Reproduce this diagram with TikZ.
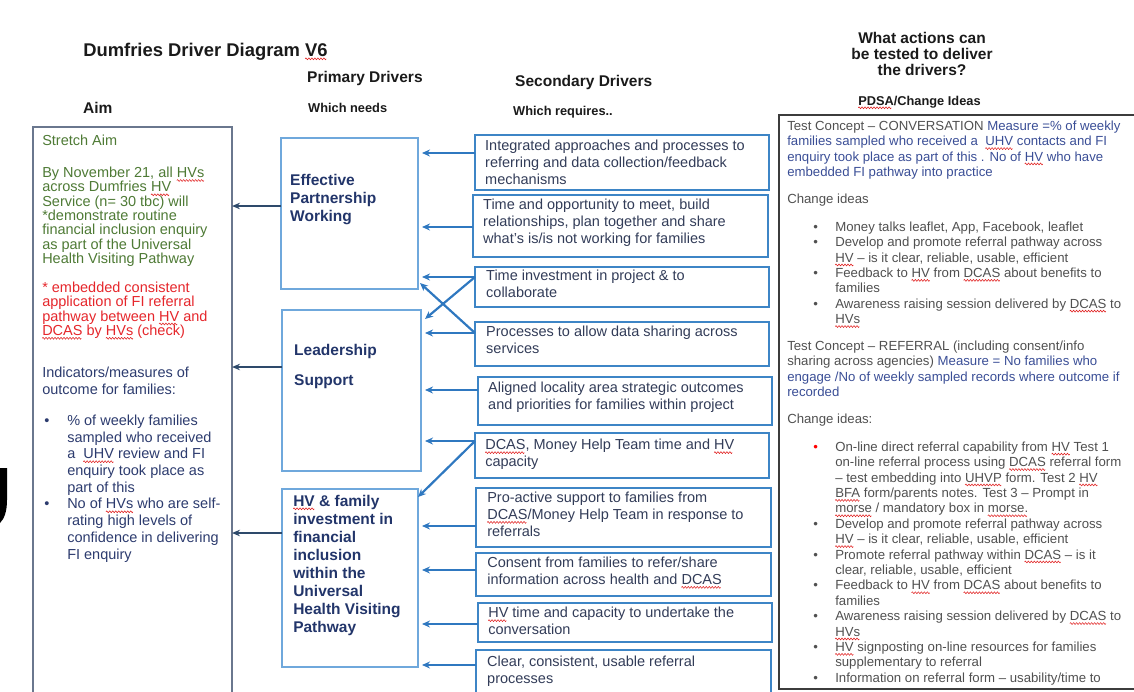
\documentclass[tikz,border=0pt]{standalone}
\usepackage{fontspec}
\setmainfont{Liberation Sans}
\usetikzlibrary{arrows.meta}

\definecolor{headblack}{HTML}{1A1A1A}
\definecolor{aimframe}{HTML}{6A778E}
\definecolor{aimarrow}{HTML}{2E4A6B}
\definecolor{aimgreen}{HTML}{4E7A35}
\definecolor{aimred}{HTML}{E5262B}
\definecolor{aimnavy}{HTML}{2C3B6E}
\definecolor{pframe}{HTML}{6FA8DC}
\definecolor{sframe}{HTML}{3D85C6}
\definecolor{sarrowc}{HTML}{2F78C0}
\definecolor{ptextc}{HTML}{22356A}
\definecolor{stextc}{HTML}{323C58}
\definecolor{rframe}{HTML}{3C3C3C}
\definecolor{rgray}{HTML}{505050}
\definecolor{rblue}{HTML}{3A4E96}
\definecolor{spellred}{HTML}{E02020}

% red wavy spell-check underline, built from a small pgf zigzag repeated with \leaders
\newcommand\wavemark{\begin{pgfpicture}%
  \pgfsetlinewidth{0.55pt}\pgfsetstrokecolor{spellred}\pgfsetroundjoin
  \pgfpathmoveto{\pgfpoint{0pt}{-2.8pt}}%
  \pgfpathlineto{\pgfpoint{0.75pt}{-1.8pt}}%
  \pgfpathlineto{\pgfpoint{2.25pt}{-3.8pt}}%
  \pgfpathlineto{\pgfpoint{3pt}{-2.8pt}}%
  \pgfusepath{stroke}%
  \pgfresetboundingbox
  \pgfpathrectangle{\pgfpointorigin}{\pgfpoint{3pt}{0pt}}%
  \pgfusepath{use as bounding box}%
\end{pgfpicture}}
\newsavebox\sqbox
\newsavebox\wavebox
\newcommand\sq[1]{\sbox\wavebox{\wavemark}\sbox\sqbox{#1}\rlap{\usebox\sqbox}\hbox to\wd\sqbox{\leaders\copy\wavebox\hfill}}

% bullets in the aim box
\newcommand\ab{\hspace*{2pt}\makebox[23pt][l]{\textbullet}}
\newcommand\ai{\hspace*{25pt}}
% bullets in the change-ideas column
\newcommand\rb{\hspace*{26pt}\makebox[22pt][l]{\textbullet}}
\newcommand\rd{\hspace*{26pt}\makebox[22pt][l]{\textcolor{red}{\textbullet}}}
\newcommand\ri{\hspace*{48pt}}
\newcommand\mb[1]{\textcolor{rblue}{#1}}
\newcommand\rl[1]{\textcolor{aimred}{#1}}

\begin{document}
\begin{tikzpicture}[x=1pt,y=-1pt,
  heading/.style={font=\bfseries\fontsize{15.5}{16}\selectfont, text=headblack, inner sep=0, anchor=base west},
  subhead/.style={font=\bfseries\fontsize{12.8}{14}\selectfont, text=headblack, inner sep=0, anchor=base west},
  aimbox/.style={draw=aimframe, line width=1.7pt, anchor=north west, inner sep=0, outer sep=0},
  pbox/.style={draw=pframe, line width=1.3pt, anchor=north west, inner sep=0, outer sep=0},
  sbox/.style={draw=sframe, line width=1.8pt, anchor=north west, inner sep=0, outer sep=0},
  ptext/.style={font=\bfseries\fontsize{15.5}{18}\selectfont, text=ptextc, align=left, anchor=north west, inner sep=0},
  stext/.style={font=\fontsize{14.5}{16.8}\selectfont, text=stextc, align=left, anchor=north west, inner sep=0},
  aimarr/.style={draw=aimarrow, line width=2pt, -{Stealth[length=8pt,width=6.5pt]}},
  sarr/.style={draw=sarrowc, line width=2.2pt, shorten >=4pt, -{Stealth[length=8pt,width=7pt]}}
]
\useasboundingbox (0,0) rectangle (1134,691);
\clip (0,0) rectangle (1134,691);

% fragment of a large glyph at the left edge
\fill[black] (0,468) -- (7,468) -- (7,500) .. controls (7,512) and (4,519) .. (0,523) -- cycle;

% headings
\node[heading, font=\bfseries\fontsize{18.4}{20}\selectfont] (title) at (83,56) {Dumfries Driver Diagram \sq{V6}};
\node[heading] (aimhd) at (83,113) {Aim};
\node[heading] (primhd) at (307,82) {Primary Drivers};
\node[subhead] (primsub) at (308,112) {Which needs};
\node[heading] (sechd) at (515,86) {Secondary Drivers};
\node[subhead] (secsub) at (513,115) {Which requires..};
\node[heading, anchor=north, align=center] (acthd) at (922,32) {What actions can\\be tested to deliver\\the drivers?};
\node[subhead] (pdsahd) at (858,105) {\sq{PDSA}/Change Ideas};

% aim box
\node[aimbox, minimum width=199, minimum height=600] (aim) at (33,127) {};
\node[stext, text=aimgreen, font=\fontsize{14.5}{14.3}\selectfont] (aimtext) at (42,135) {%
Stretch Aim\\[17.6pt]
By November 21, all \sq{HVs}\\
across Dumfries \sq{HV}\\
Service (n= 30 tbc) will\\
*demonstrate routine\\
financial inclusion enquiry\\
as part of the Universal\\
Health Visiting Pathway\\[14.8pt]
\rl{* embedded consistent}\\
\rl{application of FI referral}\\
\rl{pathway between \sq{HV} and}\\
\rl{\sq{DCAS} by \sq{HVs} (check)}};
\node[stext, text=aimnavy, font=\fontsize{14.5}{16.7}\selectfont] (aimind) at (42,367) {%
Indicators/measures of\\
outcome for families:\\[14.3pt]
\ab\% of weekly families\\
\ai sampled who received\\
\ai a\ \ \sq{UHV} review and FI\\
\ai enquiry took place as\\
\ai part of this\\
\ab No of \sq{HVs} who are self-\\
\ai rating high levels of\\
\ai confidence in delivering\\
\ai FI enquiry};

% primary drivers
\node[pbox, minimum width=137, minimum height=151] (p1) at (281,138) {};
\node[ptext] (p1t) at (290,174.5) {Effective\\Partnership\\Working};
\node[pbox, minimum width=139, minimum height=161] (p2) at (282,310) {};
\node[ptext] (p2t) at (294,344.5) {Leadership\\[12pt]Support};
\node[pbox, minimum width=136, minimum height=178] (p3) at (282,489) {};
\node[ptext] (p3t) at (293,494.5) {\sq{HV} \& family\\investment in\\financial\\inclusion\\within the\\Universal\\Health Visiting\\Pathway};

% secondary drivers
\node[sbox, minimum width=294, minimum height=55] (s1) at (475,135) {};
\node[stext] (s1t) at (485,140) {Integrated approaches and processes to\\referring and data collection/feedback\\mechanisms};
\node[sbox, minimum width=295, minimum height=62] (s2) at (473,195) {};
\node[stext] (s2t) at (483,199) {Time and opportunity to meet, build\\relationships, plan together and share\\what’s is/is not working for families};
\node[sbox, minimum width=294, minimum height=40] (s3) at (475,267) {};
\node[stext] (s3t) at (486,270) {Time investment in project \& to\\collaborate};
\node[sbox, minimum width=294, minimum height=44] (s4) at (475,322) {};
\node[stext] (s4t) at (486,326) {Processes to allow data sharing across\\services};
\node[sbox, minimum width=294, minimum height=48] (s5) at (478,377) {};
\node[stext] (s5t) at (488,382) {Aligned locality area strategic outcomes\\and priorities for families within project};
\node[sbox, minimum width=294, minimum height=45] (s6) at (475,433) {};
\node[stext] (s6t) at (485,439) {\sq{DCAS}, Money Help Team time and \sq{HV}\\capacity};
\node[sbox, minimum width=295, minimum height=59] (s7) at (476,488) {};
\node[stext] (s7t) at (487,492) {Pro-active support to families from\\\sq{DCAS}/Money Help Team in response to\\referrals};
\node[sbox, minimum width=295, minimum height=43] (s8) at (476,553) {};
\node[stext] (s8t) at (487,557) {Consent from families to refer/share\\information across health and \sq{DCAS}};
\node[sbox, minimum width=294, minimum height=39] (s9) at (478,603) {};
\node[stext] (s9t) at (488,607) {\sq{HV} time and capacity to undertake the\\conversation};
\node[sbox, minimum width=295, minimum height=60] (s10) at (476,650) {};
\node[stext] (s10t) at (487,656) {Clear, consistent, usable referral\\processes};

% change ideas column
\node[draw=rframe, line width=2pt, anchor=north west, inner sep=0, outer sep=0, minimum width=361, minimum height=574] (rbox) at (779,115) {};
\node[anchor=north west, inner sep=0, align=left, text=rgray, font=\fontsize{13.2}{15.4}\selectfont] (rtext) at (787,120.5) {%
Test Concept – CONVERSATION \mb{Measure =\% of weekly}\\
\mb{families sampled who received a\ \ \sq{UHV} contacts and FI}\\
\mb{enquiry took place as part of this . No of \sq{HV} who have}\\
\mb{embedded FI pathway into practice}\\[11.4pt]
Change ideas\\[12.6pt]
\rb Money talks leaflet, App, Facebook, leaflet\\
\rb Develop and promote referral pathway across\\
\ri \sq{HV} – is it clear, reliable, usable, efficient\\
\rb Feedback to \sq{HV} from \sq{DCAS} about benefits to\\
\ri families\\
\rb Awareness raising session delivered by \sq{DCAS} to\\
\ri \sq{HVs}\\[11.2pt]
Test Concept – REFERRAL (including consent/info\\
sharing across agencies) \mb{Measure = No families who}\\
\mb{engage /No of weekly sampled records where outcome if}\\
\mb{recorded}\\[11.4pt]
Change ideas:\\[12.6pt]
\rd On-line direct referral capability from \sq{HV} Test 1\\
\ri on-line referral process using \sq{DCAS} referral form\\
\ri – test embedding into \sq{UHVP} form. Test 2 \sq{HV}\\
\ri \sq{BFA} form/parents notes. Test 3 – Prompt in\\
\ri \sq{morse} / mandatory box in \sq{morse.}\\
\rb Develop and promote referral pathway across\\
\ri \sq{HV} – is it clear, reliable, usable, efficient\\
\rb Promote referral pathway within \sq{DCAS} – is it\\
\ri clear, reliable, usable, efficient\\
\rb Feedback to \sq{HV} from \sq{DCAS} about benefits to\\
\ri families\\
\rb Awareness raising session delivered by \sq{DCAS} to\\
\ri \sq{HVs}\\
\rb \sq{HV} signposting on-line resources for families\\
\ri supplementary to referral\\
\rb Information on referral form – usability/time to};

% primary drivers feed the aim
\draw[aimarr] (p1.west |- 0,206) -- (aim.east |- 0,206);
\draw[aimarr] (p2.west |- 0,367) -- (aim.east |- 0,367);
\draw[aimarr] (p3.west |- 0,533) -- (aim.east |- 0,533);

% secondary drivers feed the primary drivers
\draw[sarr] (s1.west |- 0,153) -- (p1.east |- 0,153);
\draw[sarr] (s2.west |- 0,227) -- (p1.east |- 0,227);
\draw[sarr] (s3.west |- 0,277) -- (p1.east |- 0,277);
\draw[sarr, shorten >=0pt] (s3.west |- 0,277) -- ([xshift=4pt,yshift=-9pt]p2.north east);
\draw[sarr] (s4.west |- 0,333) -- (p2.east |- 0,333);
\draw[sarr, shorten >=0pt] (s4.west |- 0,333) -- ([xshift=2pt,yshift=6pt]p1.south east);
\draw[sarr] (s5.west |- 0,390) -- (p2.east |- 0,390);
\draw[sarr] (s6.west |- 0,441) -- (p2.east |- 0,441);
\draw[sarr, shorten >=0pt] (s6.west |- 0,441) -- ([yshift=-8pt]p3.north east);
\draw[sarr] (s7.west |- 0,526) -- (p3.east |- 0,526);
\draw[sarr] (s8.west |- 0,570) -- (p3.east |- 0,570);
\draw[sarr] (s9.west |- 0,624) -- (p3.east |- 0,624);
\draw[sarr] (s10.west |- 0,665) -- (p3.east |- 0,665);
\end{tikzpicture}
\end{document}
